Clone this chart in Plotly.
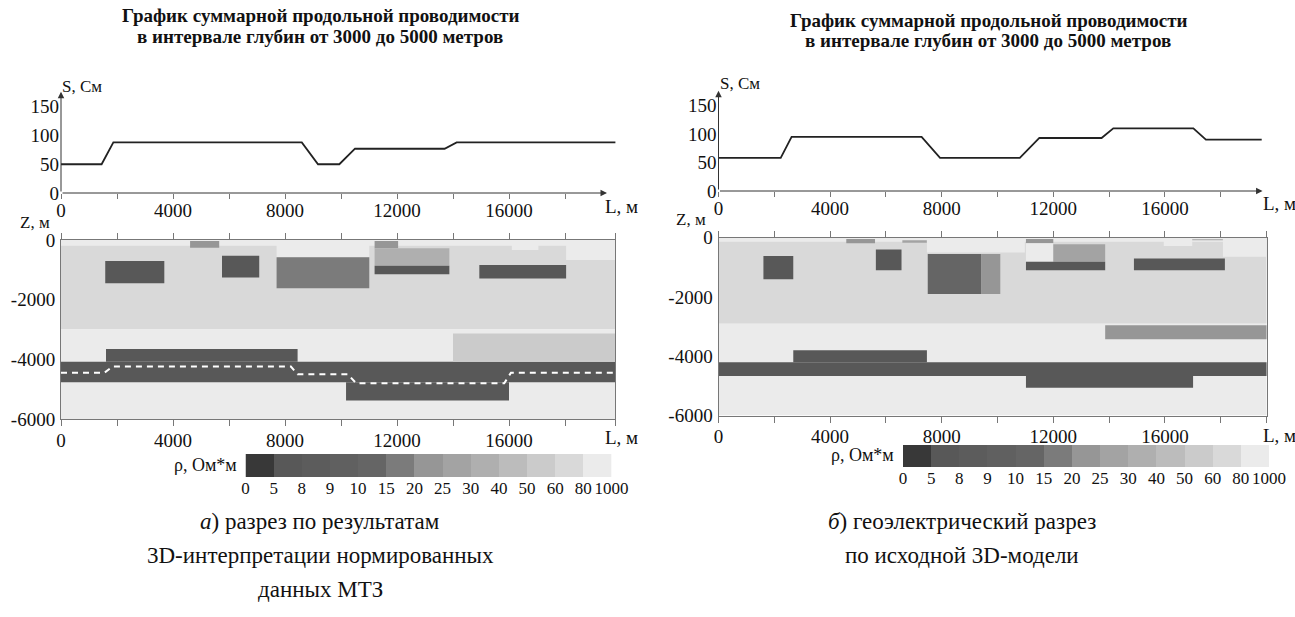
import plotly.graph_objects as go

W, H = 1295, 617
FONT = "Times New Roman"

# ---------------- data ----------------
RHO_LABELS = ["0", "5", "8", "9", "10", "15", "20", "25", "30", "40", "50", "60", "80", "1000"]
RHO_COLORS = ["#383838", "#585858", "#5c5c5c", "#606060", "#656565", "#7b7b7b", "#969696",
              "#a3a3a3", "#afafaf", "#bcbcbc", "#cbcbcb", "#d9d9d9", "#ebebeb"]

# S (conductance) profile, panel a
S_A_L = [0, 1450, 1870, 8600, 9180, 9940, 10500, 13700, 14130, 19800]
S_A_V = [50, 50, 88, 88, 50, 50, 77, 77, 88, 88]
# S profile, panel b
S_B_L = [0, 2230, 2620, 7280, 7940, 10800, 11500, 13730, 14150, 17020, 17470, 19470]
S_B_V = [58, 58, 95, 95, 58, 58, 93, 93, 110, 110, 90, 90]

S_TICKS = [0, 50, 100, 150]
L_TICKS = list(range(0, 20000, 2000))
Z_TICKS = [0, -2000, -4000, -6000]

# section blocks: L start, L end, Z top, Z bottom, resistivity class index
SEC_A_EDGE = 19800
SEC_A = [
    (0, 19800, 0, -3000, 11),
    (0, 19800, -3000, -6000, 12),
    (0, 19800, 0, -190, 12),
    (0, 19800, -4080, -4770, 1),
    (1607, 8450, -3650, -4080, 1),
    (10180, 16000, -4770, -5380, 1),
    (14000, 19800, -3130, -4080, 10),
    (1580, 3690, -700, -1450, 1),
    (5750, 7080, -525, -1260, 1),
    (4610, 5650, -30, -260, 6),
    (7700, 11010, 0, -580, 12),
    (7700, 11010, -580, -1620, 5),
    (11200, 12040, -30, -280, 6),
    (11200, 13870, -280, -860, 8),
    (11200, 13870, -860, -1150, 1),
    (14940, 18040, -840, -1290, 1),
    (18040, 19800, 0, -670, 12),
    (16100, 17050, 0, -335, 12),
]
# boundary (dashed line), panel a
DASH_A_L = [0, 1550, 1850, 8210, 8450, 10240, 10540, 15830, 16070, 19800]
DASH_A_Z = [-4450, -4450, -4240, -4240, -4500, -4500, -4800, -4800, -4450, -4450]

SEC_B_EDGE = 19650
SEC_B = [
    (0, 19650, 0, -2900, 11),
    (0, 19650, -2900, -6000, 12),
    (0, 19650, 0, -135, 12),
    (0, 19650, -4200, -4670, 1),
    (2680, 7470, -3800, -4200, 1),
    (11020, 17010, -4670, -5065, 1),
    (13860, 19650, -2955, -3430, 6),
    (1610, 2680, -620, -1400, 1),
    (5640, 6560, -395, -1095, 1),
    (4580, 5610, -45, -190, 6),
    (6590, 7470, -90, -170, 7),
    (7470, 10980, 0, -500, 12),
    (7500, 9410, -550, -1900, 4),
    (9410, 10100, -550, -1900, 6),
    (11020, 12000, -45, -190, 6),
    (11020, 12000, -190, -810, 12),
    (12000, 13860, -225, -810, 7),
    (11020, 13860, -810, -1095, 1),
    (14890, 18150, -700, -1095, 1),
    (15960, 16980, 0, -280, 12),
    (16980, 18080, -50, -90, 7),
    (18080, 19650, 0, -640, 12),
]

# ---------------- geometry helpers ----------------
def xd(px):
    return px / W


def yd(py):
    return 1 - py / H


fig = go.Figure()

# S curves
fig.add_trace(go.Scatter(x=S_A_L, y=S_A_V, mode="lines", xaxis="x", yaxis="y",
                         line=dict(color="#222", width=1.8),
                         hoverinfo="skip", showlegend=False))
fig.add_trace(go.Scatter(x=S_B_L, y=S_B_V, mode="lines", xaxis="x3", yaxis="y3",
                         line=dict(color="#222", width=1.8),
                         hoverinfo="skip", showlegend=False))


def add_blocks(blocks, xa, ya):
    for (l0, l1, z0, z1, c) in blocks:
        fig.add_trace(go.Scatter(x=[l0, l1, l1, l0, l0], y=[z0, z0, z1, z1, z0],
                                 mode="lines", fill="toself", fillcolor=RHO_COLORS[c],
                                 line=dict(width=0, color=RHO_COLORS[c]),
                                 xaxis=xa, yaxis=ya, hoverinfo="skip", showlegend=False))


add_blocks(SEC_A, "x2", "y2")
add_blocks(SEC_B, "x4", "y4")

fig.add_trace(go.Scatter(x=DASH_A_L, y=DASH_A_Z, mode="lines", xaxis="x2", yaxis="y2",
                         line=dict(color="white", width=2, dash="6px,5px"),
                         hoverinfo="skip", showlegend=False))

# colour bars as heatmaps
n = len(RHO_COLORS)
cs = []
for i, c in enumerate(RHO_COLORS):
    cs.append([i / n, c])
    cs.append([(i + 1) / n, c])
for xa, ya in (("x5", "y5"), ("x6", "y6")):
    fig.add_trace(go.Heatmap(z=[list(range(n))], x=[i + 0.5 for i in range(n)], y=[0],
                             colorscale=cs, zmin=-0.5, zmax=n - 0.5, showscale=False,
                             xaxis=xa, yaxis=ya, hoverinfo="skip"))

tickfont = dict(family=FONT, size=19, color="#111")
LINE = "#777"

l_text = [str(v) if v % 4000 == 0 else "" for v in L_TICKS]

COMMON = dict(automargin=False, fixedrange=True, showgrid=False, zeroline=False, tickangle=0)


def top_x(domain_px, rng, anchor):
    return dict(COMMON, domain=[xd(domain_px[0]), xd(domain_px[1])], range=rng, showline=False,
                ticks="outside", ticklen=5, tickcolor=LINE,
                tickvals=L_TICKS, ticktext=l_text, tickfont=tickfont, anchor=anchor,
                ticklabelstandoff=-5)


def top_y(domain_px, anchor):
    return dict(COMMON, domain=[yd(domain_px[0]), yd(domain_px[1])], range=[0, 180],
                showline=False, ticks="", tickvals=S_TICKS,
                tickfont=tickfont, anchor=anchor, ticklabelstandoff=1)


def sec_x(domain_px, rng, anchor):
    return dict(COMMON, domain=[xd(domain_px[0]), xd(domain_px[1])], range=rng, showline=True,
                linecolor=LINE, linewidth=1, mirror="ticks",
                ticks="outside", ticklen=6, tickcolor=LINE, tickvals=L_TICKS + [rng[1]],
                ticktext=l_text + [""], tickfont=tickfont, anchor=anchor,
                ticklabelstandoff=-2)


def sec_y(domain_px, anchor):
    return dict(COMMON, domain=[yd(domain_px[0]), yd(domain_px[1])], range=[-6000, 0],
                showline=True, linecolor=LINE, linewidth=1, mirror=True,
                ticks="", tickvals=Z_TICKS,
                ticktext=[str(v) for v in Z_TICKS], tickfont=tickfont, anchor=anchor,
                ticklabelstandoff=1)


def sec_y_right(over, anchor):
    return dict(COMMON, overlaying=over, side="right", anchor=anchor, range=[-6000, 0],
                showline=False, ticks="outside", ticklen=7,
                tickcolor=LINE, tickvals=Z_TICKS[1:-1], showticklabels=False)


def cb_x(domain_px, anchor):
    return dict(COMMON, domain=[xd(domain_px[0]), xd(domain_px[1])], range=[0, n],
                showline=False, ticks="", tickvals=list(range(n + 1)),
                ticktext=RHO_LABELS, tickfont=dict(family=FONT, size=17, color="#111"),
                anchor=anchor, ticklabelstandoff=-1)


def cb_y(domain_px, anchor):
    return dict(COMMON, domain=[yd(domain_px[0]), yd(domain_px[1])], range=[-0.5, 0.5],
                visible=False, anchor=anchor)


AX = 61.0      # x pixel of L=0, panel a
BX = 718.5     # x pixel of L=0, panel b
KA = 0.028     # px per metre, panel a
KB = 0.0279    # px per metre, panel b

fig.update_layout(
    width=W, height=H, margin=dict(l=0, r=0, t=0, b=0, autoexpand=False),
    paper_bgcolor="white", plot_bgcolor="white", showlegend=False,
    font=dict(family=FONT, color="#111"),
    xaxis=top_x([AX, AX + KA * 20000], [0, 20000], "y"),
    yaxis=top_y([193, 193 - 0.575 * 180], "x"),
    xaxis2=sec_x([AX, AX + KA * SEC_A_EDGE], [0, SEC_A_EDGE], "y2"),
    yaxis2=sec_y([419, 240], "x2"),
    xaxis3=top_x([BX, BX + KB * 20000], [0, 20000], "y3"),
    yaxis3=top_y([191, 191 - 0.57 * 180], "x3"),
    xaxis4=sec_x([BX, BX + KB * SEC_B_EDGE], [0, SEC_B_EDGE], "y4"),
    yaxis4=sec_y([415.5, 237.7], "x4"),
    xaxis5=cb_x([245.5, 611.5], "y5"),
    yaxis5=cb_y([477, 454], "x5"),
    xaxis6=cb_x([903, 1269], "y6"),
    yaxis6=cb_y([467, 445], "x6"),
    yaxis7=sec_y_right("y2", "x2"),
    yaxis8=sec_y_right("y4", "x4"),
)

ann = []
# axis arrows of S plots
for xr, yr, xend, yend in (("x", "y", 19500, 176), ("x3", "y3", 19500, 176)):
    ann.append(dict(x=xend, y=0, ax=0, ay=0, xref=xr, yref=yr, axref=xr, ayref=yr, text="",
                    showarrow=True, arrowhead=2, arrowsize=1.3, arrowwidth=1, arrowcolor="#333"))
    ann.append(dict(x=0, y=yend, ax=0, ay=0, xref=xr, yref=yr, axref=xr, ayref=yr, text="",
                    showarrow=True, arrowhead=2, arrowsize=1.3, arrowwidth=1, arrowcolor="#333"))


def txt(s, px, py, size=19, anchor="center", bold=False):
    t = "<b>" + s + "</b>" if bold else s
    ann.append(dict(text=t, x=xd(px), y=yd(py), xref="paper", yref="paper", showarrow=False,
                    xanchor=anchor, yanchor="middle",
                    font=dict(family=FONT, size=size, color="#111")))


for cx, y1, y2 in ((320, 15, 36), (988, 20, 41)):
    txt("График суммарной продольной проводимости", cx, y1, size=19, bold=True)
    txt("в интервале глубин от 3000 до 5000 метров", cx, y2, size=19, bold=True)

for ox, ys, yl, yz, ylb, zr in ((AX, 86, 206, 222, 437, 52), (BX, 84, 204, 219, 435, 708)):
    txt("S, См", ox - 1, ys, size=17, anchor="left")
    txt("L, м", ox + 542, yl, anchor="left")
    txt("Z, м", zr, yz, size=17, anchor="right")
    txt("L, м", ox + 542, ylb, anchor="left")

txt("ρ, Ом*м", 239, 465, size=18, anchor="right")
txt("ρ, Ом*м", 896, 455, size=18, anchor="right")

txt("<i>а</i>) разрез по результатам", 320, 521, size=23)
txt("3D-интерпретации нормированных", 320, 555, size=23)
txt("данных МТЗ", 320, 589, size=23)
txt("<i>б</i>) геоэлектрический разрез", 962, 521, size=23)
txt("по исходной 3D-модели", 962, 555, size=23)

fig.update_layout(annotations=ann)
fig.write_html("out.html")
